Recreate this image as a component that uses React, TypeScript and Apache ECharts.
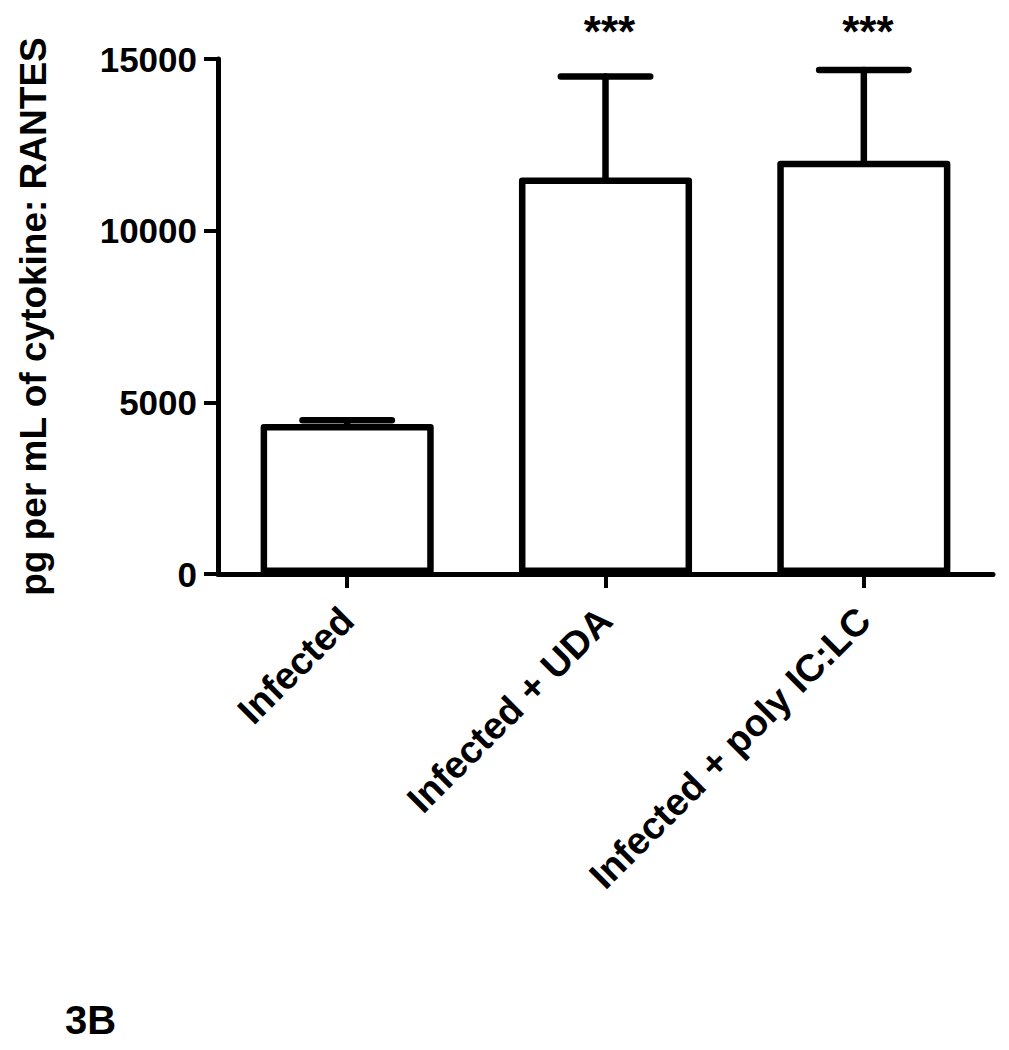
import React, { useEffect, useRef } from "react";
import * as echarts from "echarts";

const categories = ["Infected", "Infected + UDA", "Infected + poly IC:LC"];
const means = [4370, 11550, 12040];
const errorUpper = [110, 2940, 2640];
const significance = ["", "***", "***"];
const yMin = 0;
const yMax = 15000;
const yInterval = 5000;
const yTitle = "pg per mL of cytokine: RANTES";
const panelLabel = "3B";

const FONT = "'Liberation Sans', Arial, sans-serif";

export default function App() {
  const ref = useRef<HTMLDivElement>(null);
  useEffect(() => {
    if (!ref.current) return;
    const chart = echarts.init(ref.current, null, { renderer: "svg" });
    const errData = categories.map((c, i) => [i, means[i], means[i] + errorUpper[i]]);
    chart.setOption({
      animation: false,
      backgroundColor: "#ffffff",
      grid: { left: 218, right: 16, top: 59, bottom: 476, containLabel: false },
      xAxis: {
        type: "category",
        data: categories,
        axisLine: { show: true, lineStyle: { color: "#000", width: 5 } },
        axisTick: { show: true, alignWithLabel: true, length: 14, lineStyle: { color: "#000", width: 4 } },
        axisLabel: {
          rotate: 45,
          interval: 0,
          margin: 40,
          color: "#000",
          fontSize: 38,
          fontWeight: "bold",
          fontFamily: FONT,
        },
        splitLine: { show: false },
      },
      yAxis: {
        type: "value",
        min: yMin,
        max: yMax,
        interval: yInterval,
        name: yTitle,
        nameLocation: "middle",
        nameRotate: 90,
        nameGap: 166,
        nameTextStyle: { color: "#000", fontSize: 37, fontWeight: "bold", fontFamily: FONT },
        axisLine: { show: true, lineStyle: { color: "#000", width: 5 } },
        axisTick: { show: true, length: 14, lineStyle: { color: "#000", width: 4 } },
        axisLabel: {
          color: "#000",
          fontSize: 35,
          fontWeight: "bold",
          fontFamily: FONT,
          margin: 21,
          formatter: (v: number) => String(v),
        },
        splitLine: { show: false },
      },
      series: [
        {
          type: "bar",
          data: means,
          barWidth: "67%",
          itemStyle: { color: "#ffffff", borderColor: "#000", borderWidth: 6.5, borderJoin: "round" },
          z: 2,
        },
        {
          type: "custom",
          data: errData,
          z: 5,
          clip: false,
          renderItem: (params: any, api: any) => {
            const x = api.value(0);
            const m = api.value(1);
            const t = api.value(2);
            const p0 = api.coord([x, m]);
            const p1 = api.coord([x, t]);
            const half = api.size([1, 0])[0] * 0.173;
            const topY = api.coord([x, yMax])[1];
            const style = { stroke: "#000", lineWidth: 6.5, lineCap: "round" };
            const children: any[] = [
              { type: "line", shape: { x1: p0[0], y1: p0[1], x2: p1[0], y2: p1[1] }, style },
              { type: "line", shape: { x1: p1[0] - half, y1: p1[1], x2: p1[0] + half, y2: p1[1] }, style },
            ];
            const sig = significance[params.dataIndex];
            if (sig) {
              children.push({
                type: "text",
                style: {
                  text: sig,
                  x: p1[0] + 4,
                  y: topY - 28,
                  textAlign: "center",
                  textVerticalAlign: "middle",
                  fill: "#000",
                  fontSize: 44,
                  fontWeight: "bold",
                  fontFamily: FONT,
                },
              });
            }
            return { type: "group", children };
          },
        },
      ],
      graphic: [
        {
          type: "text",
          left: 65,
          top: 1000,
          style: { text: panelLabel, fill: "#000", fontSize: 40, fontWeight: "bold", fontFamily: FONT },
        },
      ],
    });
    return () => chart.dispose();
  }, []);
  return (
    <div
      ref={ref}
      style={{ position: "absolute", left: 0, top: 0, width: 1009, height: 1050, background: "#fff" }}
    />
  );
}
